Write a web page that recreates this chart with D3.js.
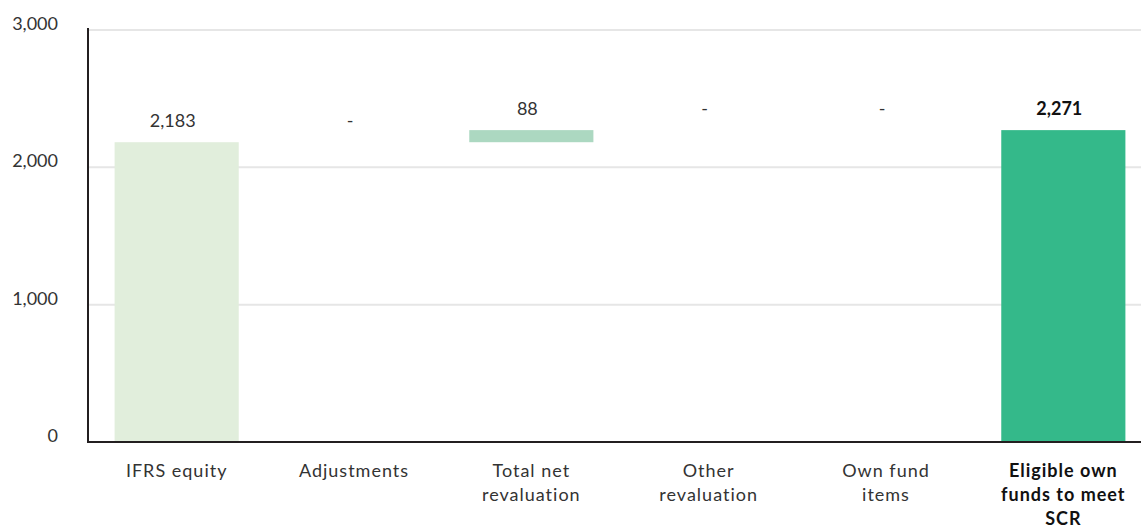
<!DOCTYPE html>
<html>
<head>
<meta charset="utf-8">
<script src="https://cdn.jsdelivr.net/npm/d3@7"></script>
<style>
  html, body { margin: 0; padding: 0; background: #ffffff; }
  svg { display: block; }
  text { font-family: Lato, "Noto Sans", sans-serif; fill: #333333; }
</style>
</head>
<body>
<svg id="chart" width="1141" height="529"></svg>
<script>
// Categories (multi-line labels) of the own-funds waterfall
const categories = ["IFRS equity", "Adjustments", "Total net revaluation", "Other revaluation", "Own fund items", "Eligible own funds to meet SCR"];
const categoryLines = [["IFRS equity"], ["Adjustments"], ["Total net", "revaluation"], ["Other", "revaluation"], ["Own fund", "items"], ["Eligible own", "funds to meet", "SCR"]];
// Step values; "total" steps are drawn from zero
const values = [2183, 0, 88, 0, 0, 2271];
const isTotal = [true, false, false, false, false, true];
const valueLabels = ["2,183", "-", "88", "-", "-", "2,271"];
const yTicks = [0, 1000, 2000, 3000];

const svg = d3.select("#chart");
const plotLeft = 88, plotRight = 1152, plotTop = 30, plotBottom = 442;

const x = d3.scaleBand().domain(categories).range([plotLeft, plotRight])
  .paddingInner(0.3).paddingOuter(0.15);
const y = d3.scaleLinear().domain([0, 3000]).range([plotBottom, plotTop]);

// Waterfall segments
let running = 0;
const steps = categories.map((c, i) => {
  let start, end;
  if (isTotal[i]) { start = 0; end = values[i]; running = values[i]; }
  else { start = running; end = running + values[i]; running = end; }
  return { c, i, start, end, v: values[i] };
});

// Gridlines
svg.append("g").selectAll("line").data(yTicks.filter(t => t > 0)).join("line")
  .attr("x1", plotLeft).attr("x2", 1141)
  .attr("y1", d => y(d)).attr("y2", d => y(d))
  .attr("stroke", "#e6e6e6").attr("stroke-width", 2);

// Y tick labels
svg.append("g").selectAll("text").data(yTicks).join("text")
  .attr("x", 58).attr("y", d => y(d))
  .attr("text-anchor", "end")
  .style("font-size", "18px")
  .text(d => d3.format(",")(d));

const colors = ["#e1eedc", null, "#acd8c1", null, null, "#34b98a"];

// Bars
svg.append("g").selectAll("rect").data(steps.filter(s => s.v !== 0)).join("rect")
  .attr("x", d => x(d.c))
  .attr("width", x.bandwidth())
  .attr("y", d => y(Math.max(d.start, d.end)))
  .attr("height", d => Math.abs(y(d.start) - y(d.end)))
  .attr("fill", d => colors[d.i]);

// Value labels above each step
svg.append("g").selectAll("text").data(steps).join("text")
  .attr("x", d => x(d.c) + x.bandwidth() / 2)
  .attr("dx", -4)
  .attr("y", d => y(Math.max(d.start, d.end)) - 15)
  .attr("text-anchor", "middle")
  .style("font-size", "18px")
  .style("font-weight", d => d.i === 5 ? "700" : "400")
  .style("fill", d => d.i === 5 ? "#111111" : "#333333")
  .text(d => valueLabels[d.i]);

// Axis lines
svg.append("line").attr("x1", plotLeft).attr("x2", plotLeft).attr("y1", 28).attr("y2", plotBottom + 1)
  .attr("stroke", "#231f20").attr("stroke-width", 2);
svg.append("line").attr("x1", plotLeft - 1).attr("x2", 1141).attr("y1", plotBottom).attr("y2", plotBottom)
  .attr("stroke", "#231f20").attr("stroke-width", 2);

// Category labels
const cat = svg.append("g").selectAll("text").data(categories).join("text")
  .attr("x", d => x(d) + x.bandwidth() / 2)
  .attr("y", plotBottom + 35)
  .attr("text-anchor", "middle")
  .style("font-size", "18px")
  .style("letter-spacing", "1px")
  .style("font-weight", (d, i) => i === 5 ? "700" : "400")
  .style("fill", (d, i) => i === 5 ? "#111111" : "#333333");
cat.each(function(d, i) {
  d3.select(this).selectAll("tspan").data(categoryLines[i]).join("tspan")
    .attr("x", x(d) + x.bandwidth() / 2)
    .attr("dy", (t, j) => j === 0 ? 0 : 24)
    .text(t => t);
});
</script>
</body>
</html>
